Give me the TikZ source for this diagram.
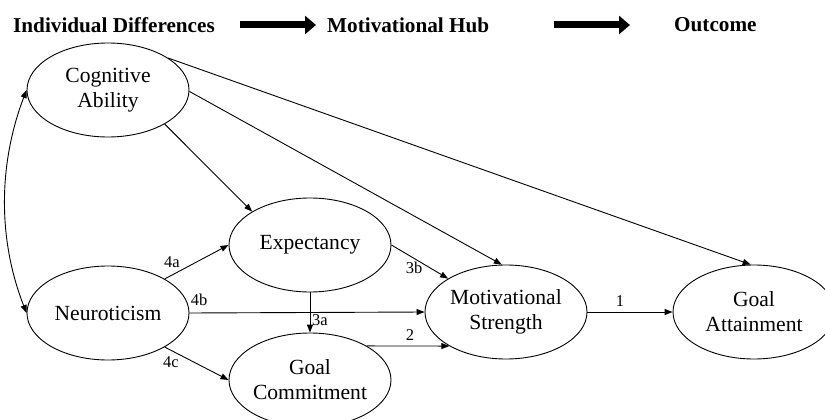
\documentclass[tikz,border=0pt]{standalone}
\usepackage{fontspec}
\setmainfont{Liberation Serif}
\usetikzlibrary{shapes.geometric,arrows.meta}
\begin{document}
\begin{tikzpicture}[x=1pt,y=-1pt,
  latent/.style={ellipse,draw,line width=0.9pt,minimum width=162pt,minimum height=94pt,inner sep=0pt,align=center,font=\fontsize{21.6}{25}\selectfont},
  pathline/.style={line width=0.9pt,-{Triangle[length=8pt,width=6pt]}},
  lbl/.style={font=\fontsize{16.5}{18}\selectfont,inner sep=0pt},
  hdr/.style={font=\bfseries\fontsize{21.2}{24}\selectfont,inner sep=0pt,anchor=west},
  bigarrow/.style={line width=7pt,-{Triangle[length=11pt,width=18pt]}}]
\useasboundingbox (0,0) rectangle (825,420);
% header
\node[hdr] (h1) at (13,25) {Individual Differences};
\node[hdr] (h2) at (327,25) {Motivational Hub};
\node[hdr] (h3) at (674,25) {Outcome};
\coordinate (a1s) at (240,25);
\coordinate (a1e) at (316,25);
\coordinate (a2s) at (554,25);
\coordinate (a2e) at (630,25);
\draw[bigarrow] (a1s) -- (a1e);
\draw[bigarrow] (a2s) -- (a2e);
% constructs
\node[latent] (ca) at (108,90) {Cognitive\\Ability};
\node[latent] (n) at (108,313) {Neuroticism};
\node[latent] (ex) at (310,245) {Expectancy};
\node[latent] (gc) at (310,380) {Goal\\Commitment};
\node[latent] (ms) at (506,312) {Motivational\\Strength};
\node[latent] (ga) at (754,312) {Goal\\Attainment};
% paths
\draw[line width=0.9pt,{Triangle[length=8pt,width=6pt]}-{Triangle[length=8pt,width=6pt]}]
  (ca.west) .. controls (-2,165) and (-2,240) .. (n.west);
\draw[pathline] (ca.-31.5) -- (ex.150.4);
\draw[pathline] (ca.-1) -- (ms.95);
\draw[pathline] (ca.28.5) -- (ga.94);
\draw[pathline] (n.31.5) -- (ex.west);
\draw[pathline] (n.east) -- (ms.west);
\draw[pathline] (n.-31.5) -- (gc.west);
\draw[pathline] (ex.south) -- (gc.north);
\draw[pathline] (ex.east) -- (ms.150);
\draw[pathline] (gc.31.3) -- (ms.211.3);
\draw[pathline] (ms.east) -- (ga.west);
% labels
\node[lbl] (l4a) at (172,262) {4a};
\node[lbl] (l4b) at (199,300) {4b};
\node[lbl] (l4c) at (171,362) {4c};
\node[lbl] (l3a) at (320,320) {3a};
\node[lbl] (l3b) at (414,268) {3b};
\node[lbl] (l2) at (410,335) {2};
\node[lbl] (l1) at (620,301) {1};
\end{tikzpicture}
\end{document}
